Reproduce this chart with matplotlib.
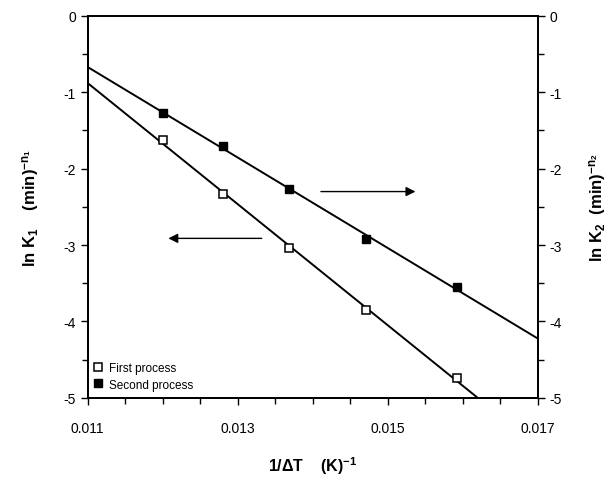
import numpy as np
import matplotlib
matplotlib.use('Agg')
import matplotlib.pyplot as plt

plt.rcParams['font.family'] = ['Liberation Sans', 'DejaVu Sans']
plt.rcParams['mathtext.fontset'] = 'custom'
plt.rcParams['mathtext.rm'] = 'Liberation Sans'
plt.rcParams['mathtext.bf'] = 'Liberation Sans:bold'
plt.rcParams['mathtext.default'] = 'bf'

# 1/dT values shared by both processes
inv_dT = [0.01200, 0.01280, 0.01369, 0.01471, 0.01592]
lnK1 = [-1.625, -2.33, -3.045, -3.85, -4.74]   # first process, left axis
lnK2 = [-1.275, -1.70, -2.26, -2.92, -3.556]   # second process, right axis

x_ticks = [0.011, 0.013, 0.015, 0.017]
y_ticks = [0, -1, -2, -3, -4, -5]

fig = plt.figure(figsize=(6.07, 4.81), dpi=100)
ax = fig.add_axes([0.1445, 0.1711, 0.7413, 0.7936])
ax2 = ax.twinx()

xs = np.array([0.011, 0.017])
for x, y, a in [(inv_dT, lnK1, ax), (inv_dT, lnK2, ax2)]:
    k, b = np.polyfit(x, y, 1)
    a.plot(xs, k * xs + b, color='black', lw=1.4, zorder=2)

ax.plot(inv_dT, lnK1, 's', ms=6, mfc='white', mec='black', mew=1.1, zorder=3,
        label='First process')
ax2.plot(inv_dT, lnK2, 's', ms=6, mfc='black', mec='black', zorder=3,
         label='Second process')

for a in (ax, ax2):
    a.set_xlim(0.011, 0.017)
    a.set_ylim(-5, 0)
    a.set_yticks(y_ticks)
    a.set_yticklabels([str(t) for t in y_ticks])
    a.set_yticks(np.arange(-4.5, 0, 1.0), minor=True)
    a.tick_params(which='major', direction='out', length=5, width=1, labelsize=10)
    a.tick_params(which='minor', direction='out', length=4, width=1)
    for s in a.spines.values():
        s.set_linewidth(1.3)

ax.set_xticks(x_ticks)
ax.set_xticklabels(['0.011', '0.013', '0.015', '0.017'])
ax.set_xticks(np.arange(0.0115, 0.017, 0.0005), minor=True)
ax.tick_params(axis='x', pad=12)

# arrows pointing to each curve's axis
ax.annotate('', xy=(0.012075, -2.913), xytext=(0.01332, -2.913),
            arrowprops=dict(arrowstyle='-|>', color='black', lw=1.0,
                            mutation_scale=14, shrinkA=0, shrinkB=0))
ax.annotate('', xy=(0.01537, -2.30), xytext=(0.01411, -2.30),
            arrowprops=dict(arrowstyle='-|>', color='black', lw=1.0,
                            mutation_scale=14, shrinkA=0, shrinkB=0))

ax.set_ylabel(r'ln K$_1$    (min)$^{-n_1}$', fontsize=12, fontweight='bold', labelpad=16)
ax2.set_ylabel(r'ln K$_2$  (min)$^{-n_2}$', fontsize=12, fontweight='bold',
               rotation=90, labelpad=18)
ax.set_xlabel(r'1/$\Delta$T    (K)$^{-1}$', fontsize=11.5, fontweight='bold', labelpad=14)

h1, l1 = ax.get_legend_handles_labels()
h2, l2 = ax2.get_legend_handles_labels()
ax2.legend(h1 + h2, l1 + l2, loc='lower left', frameon=False, fontsize=8.5,
           handlelength=0.6, handletextpad=0.6, borderaxespad=0.2,
           labelspacing=0.4, markerscale=0.9)

fig.savefig('out.png', dpi=100)
